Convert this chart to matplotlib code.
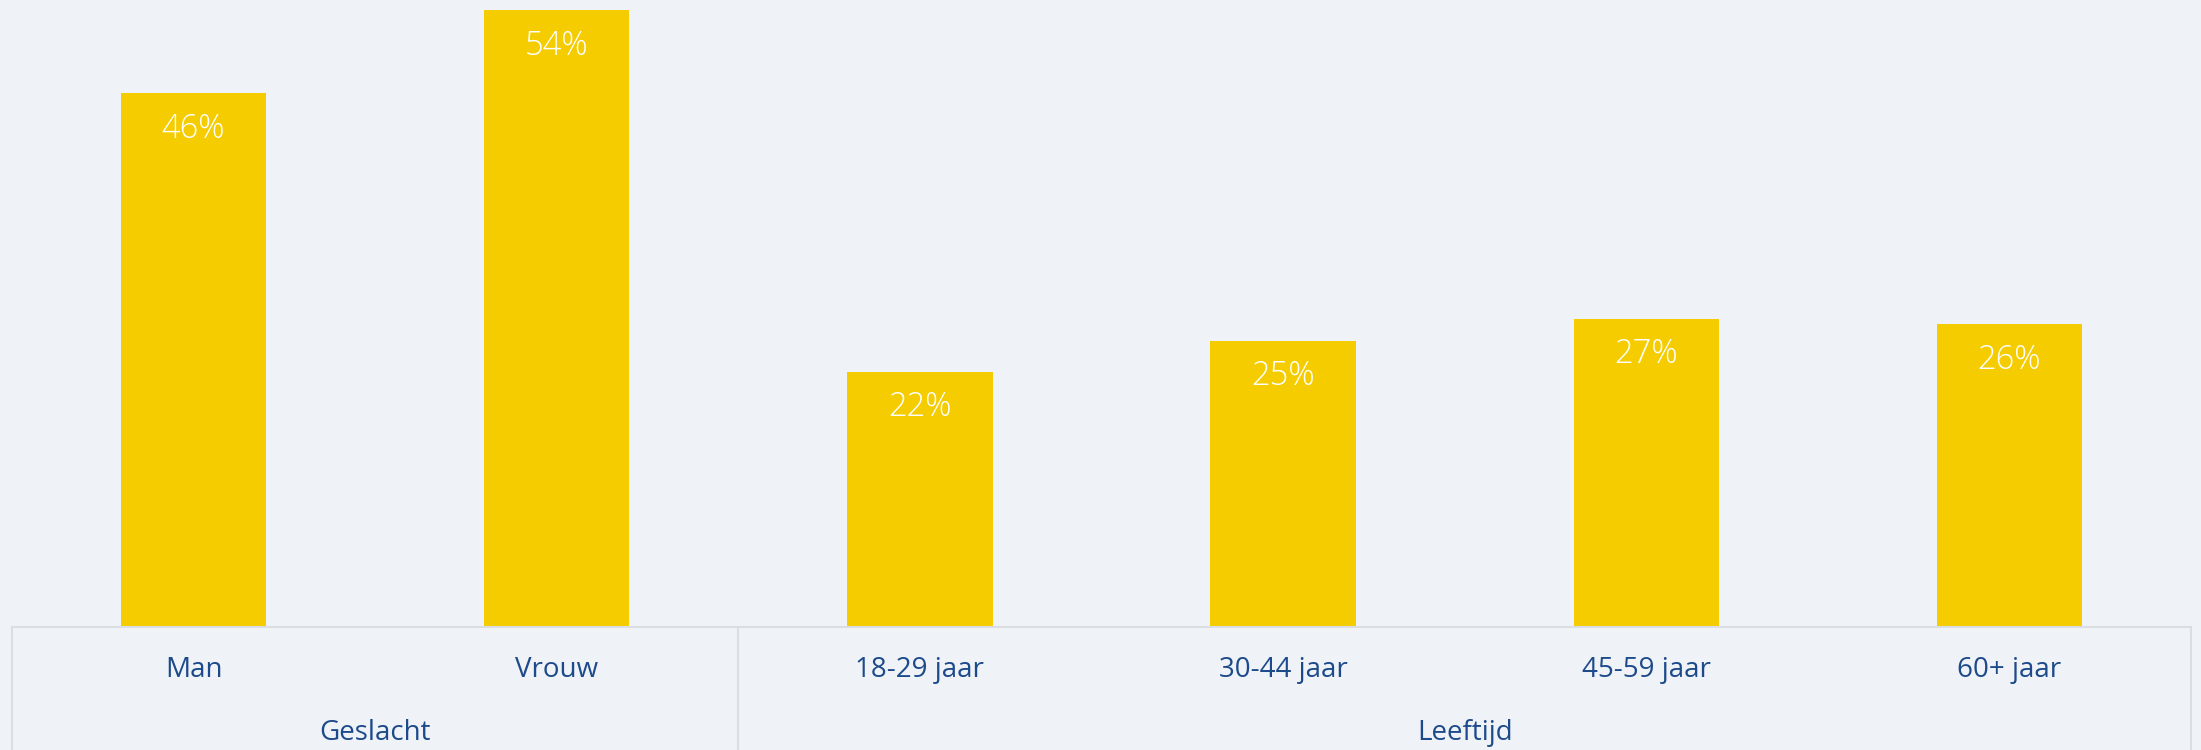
#!/usr/bin/env python
# -*- coding: utf-8 -*-

import matplotlib
matplotlib.use("Agg")
import matplotlib.pyplot as plt

# data
categories = ["Man", "Vrouw", "18-29 jaar", "30-44 jaar", "45-59 jaar", "60+ jaar"]
values = [46.4, 53.6, 22.2, 24.9, 26.8, 26.3]
groups = ["Geslacht", "Leeftijd"]
group_sizes = [2, 4]

BG = "#EFF3F8"
BAR = "#F5CC00"
TXT = "#1D4A8A"
LINE = "#DADDE2"

plt.rcParams["font.family"] = ["Open Sans", "DejaVu Sans"]

W, H = 2201, 750
fig = plt.figure(figsize=(W / 100, H / 100), dpi=100, facecolor=BG)
ax = fig.add_axes([12 / W, (H - 627) / H, 2179 / W, 627 / H])
ax.set_facecolor(BG)

x = list(range(len(categories)))
ax.bar(x, values, width=0.4, color=BAR, zorder=2)
ax.set_xlim(-0.5, len(categories) - 0.5)
ax.set_ylim(0, 54.5)

# labels in de balken
for xi, v in zip(x, values):
    ax.annotate("%d%%" % round(v), (xi, v), xytext=(0, -36), textcoords="offset pixels",
                ha="center", va="center", color="white", fontsize=23.5,
                fontweight="light", zorder=3)

for s in ["top", "left", "right"]:
    ax.spines[s].set_visible(False)
ax.spines["bottom"].set_color(LINE)
ax.spines["bottom"].set_linewidth(1.5)
ax.set_xticks([])
ax.set_yticks([])

trans = ax.get_xaxis_transform()
for xi, c in zip(x, categories):
    ax.text(xi, -43 / 627, c, transform=trans, ha="center", va="center",
            color=TXT, fontsize=20)

# groepen met scheidingslijnen
start = -0.5
edges = [start]
for g, n in zip(groups, group_sizes):
    mid = start + n / 2
    ax.text(mid, -106 / 627, g, transform=trans, ha="center", va="center",
            color=TXT, fontsize=20)
    start += n
    edges.append(start)
for e in edges:
    ax.plot([e, e], [0, -130 / 627], transform=trans, color=LINE, lw=1.5, clip_on=False)

fig.savefig("out.png", dpi=100, facecolor=BG)
